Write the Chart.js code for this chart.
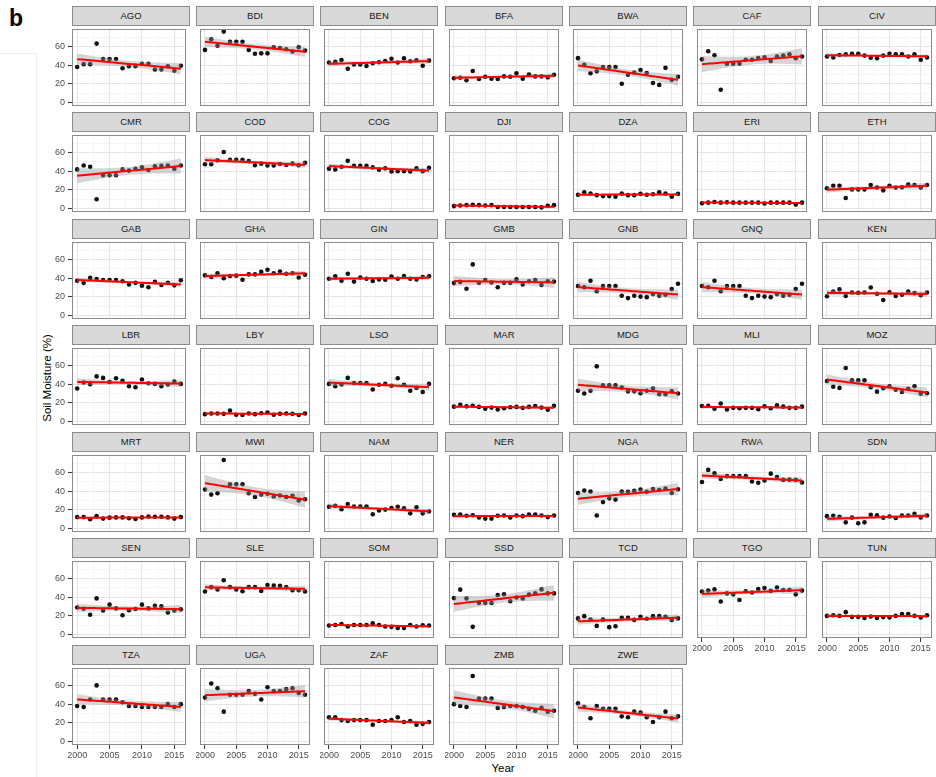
<!DOCTYPE html>
<html>
<head>
<meta charset="utf-8">
<script src="https://cdn.jsdelivr.net/npm/chart.js@4.4.1/dist/chart.umd.min.js"></script>
<style>
  html, body { margin: 0; padding: 0; background: #fff; }
  body { width: 936px; height: 777px; position: relative; overflow: hidden;
         font-family: "Liberation Sans", Arial, Helvetica, sans-serif; }
  canvas { position: absolute; }
  .strip { position: absolute; box-sizing: border-box; background: #d9d9d9;
           border: 1px solid #8c8c8c; font-size: 9.5px; color: #1a1a1a;
           text-align: center; line-height: 17px; }
  #tag { position: absolute; left: 9px; top: 5px; font-weight: bold; font-size: 23px; color: #000; }
  #frame { position: absolute; left: -1px; top: 53px; width: 37px; height: 730px;
           border-top: 1px solid #ededed; border-right: 1px solid #ededed; }
  #ytitle { position: absolute; left: 47px; top: 378px; transform: translate(-50%, -50%) rotate(-90deg);
            font-size: 11.5px; white-space: nowrap; color: #000; }
  #xtitle { position: absolute; left: 503px; top: 768px; transform: translate(-50%, -50%);
            font-size: 11.5px; color: #000; }
</style>
</head>
<body>
<div id="frame"></div>
<div id="tag">b</div>
<div id="ytitle">Soil Moisture (%)</div>
<div id="xtitle">Year</div>
<script>
// Annual soil moisture (%) by country, 2000–2016
const years = [2000, 2001, 2002, 2003, 2004, 2005, 2006, 2007, 2008, 2009, 2010, 2011, 2012, 2013, 2014, 2015, 2016];
const yearTicks = [2000, 2005, 2010, 2015];
const moistureTicks = [0, 20, 40, 60];

const countries = ['AGO', 'BDI', 'BEN', 'BFA', 'BWA', 'CAF', 'CIV',
                   'CMR', 'COD', 'COG', 'DJI', 'DZA', 'ERI', 'ETH',
                   'GAB', 'GHA', 'GIN', 'GMB', 'GNB', 'GNQ', 'KEN',
                   'LBR', 'LBY', 'LSO', 'MAR', 'MDG', 'MLI', 'MOZ',
                   'MRT', 'MWI', 'NAM', 'NER', 'NGA', 'RWA', 'SDN',
                   'SEN', 'SLE', 'SOM', 'SSD', 'TCD', 'TGO', 'TUN',
                   'TZA', 'UGA', 'ZAF', 'ZMB', 'ZWE'];

const AGO = [38.1, 41.1, 41.1, 63.0, 46.5, 46.5, 46.5, 36.7, 38.8, 38.8, 41.5, 41.5, 35.4, 35.4, 38.8, 34.0, 39.4];
const BDI = [56.3, 67.7, 60.7, 75.8, 65.0, 65.0, 65.0, 56.3, 52.2, 52.6, 52.6, 59.0, 58.3, 57.0, 54.6, 59.0, 55.6];
const BEN = [42.8, 43.5, 45.5, 36.1, 40.8, 40.8, 39.1, 42.1, 43.1, 44.5, 46.8, 42.8, 47.2, 44.2, 45.2, 39.4, 44.8];
const BFA = [26.0, 26.6, 23.9, 33.7, 25.3, 27.6, 25.6, 25.3, 28.0, 27.6, 31.3, 25.6, 30.0, 28.0, 28.0, 27.0, 29.7];
const BWA = [47.5, 40.4, 31.3, 33.4, 38.1, 38.1, 38.1, 20.2, 29.7, 32.0, 34.7, 31.7, 20.9, 18.9, 37.1, 24.3, 27.6];
const CAF = [46.2, 54.9, 50.6, 13.8, 41.5, 41.5, 41.5, 45.8, 45.8, 47.5, 48.5, 44.5, 49.2, 50.2, 51.6, 47.5, 49.2];
const CIV = [49.2, 48.2, 50.9, 51.6, 52.2, 52.2, 50.2, 47.9, 47.5, 50.2, 52.2, 51.6, 51.6, 49.2, 51.6, 45.8, 48.2];
const CMR = [41.9, 46.0, 44.6, 10.0, 35.6, 35.6, 35.6, 41.9, 40.6, 42.6, 44.0, 41.3, 45.3, 45.6, 46.0, 42.6, 46.0];
const COD = [47.3, 47.3, 51.7, 60.4, 52.0, 52.0, 52.0, 50.7, 46.3, 48.0, 46.0, 46.0, 47.7, 46.6, 48.0, 46.3, 49.0];
const COG = [42.6, 41.9, 44.6, 51.0, 45.6, 45.6, 45.6, 44.0, 41.6, 43.0, 39.6, 40.0, 40.0, 39.6, 43.0, 40.0, 43.6];
const DJI = [2.7, 3.4, 3.7, 4.0, 3.7, 3.4, 3.7, 1.7, 1.7, 1.7, 1.7, 1.7, 1.7, 1.7, 1.3, 3.0, 3.7];
const DZA = [14.8, 17.4, 16.1, 14.4, 13.4, 13.4, 12.8, 16.1, 14.4, 14.4, 15.8, 14.8, 15.4, 17.4, 16.1, 12.8, 15.8];
const ERI = [5.7, 6.4, 7.0, 6.4, 6.7, 6.4, 6.4, 6.4, 6.4, 6.4, 5.4, 6.4, 6.4, 6.4, 6.4, 4.4, 6.4];
const ETH = [21.8, 24.5, 24.5, 11.4, 20.5, 20.5, 20.5, 25.2, 22.5, 19.5, 24.5, 22.5, 22.8, 25.8, 25.2, 22.5, 25.2];
const GAB = [37.3, 35.0, 40.3, 39.0, 38.0, 38.0, 38.0, 36.7, 33.3, 35.0, 32.0, 30.3, 36.0, 32.7, 35.0, 32.3, 37.7];
const GHA = [43.0, 41.3, 45.3, 40.0, 42.3, 42.7, 38.3, 44.0, 44.0, 46.7, 49.0, 45.3, 47.0, 44.7, 45.3, 40.7, 43.7];
const GIN = [39.3, 42.0, 37.3, 44.7, 36.3, 40.7, 39.3, 37.0, 38.7, 38.3, 41.7, 39.3, 42.3, 39.3, 38.7, 41.3, 42.0];
const GMB = [34.7, 36.0, 28.7, 54.7, 35.0, 38.0, 35.3, 30.3, 35.0, 35.0, 38.7, 33.3, 36.7, 38.0, 32.7, 36.7, 36.3];
const GNB = [31.7, 30.3, 37.3, 26.0, 31.7, 31.7, 31.7, 21.3, 18.7, 21.3, 20.3, 19.7, 23.0, 21.3, 22.3, 28.3, 34.0];
const GNQ = [31.7, 30.3, 37.3, 26.0, 31.7, 31.7, 31.7, 21.3, 18.7, 21.3, 20.3, 19.7, 23.0, 21.3, 22.3, 28.3, 34.0];
const KEN = [20.7, 25.7, 28.0, 21.0, 24.7, 24.3, 24.7, 30.0, 23.3, 16.7, 25.0, 21.0, 22.3, 25.7, 24.0, 21.7, 24.7];
const LBR = [35.3, 41.7, 40.0, 48.3, 46.7, 42.3, 46.3, 43.7, 37.7, 36.7, 45.0, 41.0, 40.3, 37.7, 39.7, 42.7, 40.3];
const LBY = [8.0, 8.7, 8.7, 8.3, 11.7, 7.3, 7.0, 8.7, 8.0, 9.0, 9.7, 7.3, 8.3, 8.7, 8.3, 7.0, 8.7];
const LSO = [40.3, 37.7, 39.7, 46.7, 41.3, 41.3, 41.3, 34.3, 39.3, 40.3, 38.3, 46.3, 39.3, 33.0, 36.0, 31.7, 40.3];
const MAR = [16.0, 18.0, 16.3, 17.0, 15.7, 13.7, 15.0, 13.0, 14.3, 15.3, 15.7, 14.7, 15.7, 16.7, 15.0, 12.7, 17.0];
const MDG = [33.0, 30.0, 33.0, 59.0, 38.7, 38.7, 38.7, 36.3, 32.3, 32.3, 30.3, 33.0, 35.3, 29.3, 29.3, 32.3, 30.0];
const MLI = [16.7, 17.0, 13.7, 19.3, 13.0, 14.7, 14.3, 14.7, 14.7, 13.3, 16.3, 14.3, 17.3, 16.0, 14.7, 14.7, 16.0];
const MOZ = [43.3, 37.3, 36.0, 57.3, 44.0, 44.0, 44.0, 36.7, 32.0, 35.7, 37.7, 34.0, 31.7, 35.0, 37.7, 29.7, 30.3];
const MRT = [12.3, 12.3, 10.0, 13.3, 10.7, 11.7, 12.0, 12.0, 11.0, 10.3, 12.0, 13.0, 12.7, 12.7, 12.0, 10.7, 12.3];
const MWI = [41.7, 36.3, 37.7, 73.3, 47.3, 47.3, 47.3, 37.7, 33.7, 36.3, 37.3, 34.3, 35.3, 33.7, 35.0, 30.0, 31.3];
const NAM = [23.3, 24.3, 20.7, 26.3, 23.7, 23.7, 23.7, 15.3, 19.3, 20.3, 22.0, 23.3, 21.7, 16.3, 22.7, 16.3, 18.3];
const NER = [14.7, 15.0, 13.7, 14.3, 12.0, 10.7, 10.7, 13.7, 14.0, 12.0, 14.0, 13.3, 15.0, 15.0, 14.0, 12.3, 14.0];
const NGA = [38.0, 40.7, 39.7, 14.0, 28.3, 32.3, 31.0, 39.7, 39.3, 40.3, 41.7, 39.3, 42.3, 41.3, 42.7, 38.0, 42.0];
const RWA = [49.7, 62.7, 59.0, 53.0, 56.0, 56.0, 56.0, 56.0, 50.3, 49.0, 51.3, 58.7, 55.0, 52.0, 52.3, 52.0, 49.3];
const SDN = [13.3, 13.7, 12.7, 6.7, 11.7, 5.7, 6.7, 14.7, 14.3, 11.7, 13.0, 11.3, 14.0, 14.0, 15.7, 12.0, 14.0];
const SEN = [29.0, 27.7, 21.3, 38.7, 25.7, 32.0, 28.0, 20.7, 26.0, 27.3, 32.0, 28.0, 30.7, 30.3, 23.7, 25.7, 27.0];
const SLE = [46.0, 50.7, 48.3, 58.0, 50.7, 48.3, 46.3, 50.7, 50.7, 46.7, 53.0, 52.3, 52.0, 50.7, 47.3, 47.3, 46.0];
const SOM = [9.7, 10.3, 11.3, 8.7, 10.3, 10.3, 10.3, 12.0, 10.3, 8.7, 8.3, 7.0, 7.0, 10.3, 8.7, 10.0, 9.7];
const SSD = [39.0, 48.0, 38.7, 8.3, 33.7, 33.7, 33.7, 42.3, 43.0, 35.7, 39.7, 38.7, 42.7, 44.0, 48.3, 44.0, 44.0];
const TCD = [17.3, 19.7, 16.0, 9.3, 16.0, 8.0, 9.0, 18.0, 18.0, 15.7, 19.0, 17.0, 19.7, 19.7, 19.0, 15.7, 17.3];
const TGO = [46.0, 47.0, 48.3, 35.3, 44.0, 43.0, 37.0, 46.3, 45.0, 48.7, 49.7, 46.7, 50.3, 47.7, 47.7, 43.0, 47.0];
const TUN = [20.0, 20.7, 20.0, 24.0, 19.0, 19.0, 17.7, 19.3, 17.7, 18.7, 18.3, 20.0, 22.0, 22.0, 20.0, 18.3, 20.7];
const TZA = [38.0, 37.0, 45.0, 60.0, 45.0, 45.0, 45.0, 42.0, 38.0, 38.0, 37.0, 37.0, 37.0, 37.0, 40.0, 37.0, 40.0];
const UGA = [47.0, 62.0, 57.0, 32.0, 50.0, 50.0, 50.0, 54.0, 51.0, 45.0, 58.0, 54.0, 54.0, 56.0, 57.0, 52.0, 50.0];
const ZAF = [26.0, 26.0, 23.0, 22.0, 23.0, 23.0, 23.0, 18.0, 22.0, 22.0, 23.0, 26.0, 21.0, 22.0, 18.0, 19.0, 21.0];
const ZMB = [40.0, 38.0, 37.0, 70.0, 46.0, 46.0, 46.0, 36.0, 37.0, 38.0, 38.0, 37.0, 35.0, 33.0, 36.0, 32.0, 33.0];
const ZWE = [41.0, 37.0, 25.0, 38.0, 35.0, 35.0, 35.0, 27.0, 26.0, 32.0, 31.0, 26.0, 21.0, 26.0, 32.0, 25.0, 27.0];

const seriesList = [AGO, BDI, BEN, BFA, BWA, CAF, CIV, CMR, COD, COG, DJI, DZA, ERI, ETH,
                    GAB, GHA, GIN, GMB, GNB, GNQ, KEN, LBR, LBY, LSO, MAR, MDG, MLI, MOZ,
                    MRT, MWI, NAM, NER, NGA, RWA, SDN, SEN, SLE, SOM, SSD, TCD, TGO, TUN,
                    TZA, UGA, ZAF, ZMB, ZWE];

// Facet grid geometry (px)
const NCOL = 7;
const PLOT_LEFT0 = 71.7, COL_PITCH = 124.33, PLOT_W = 118;
const PLOT_TOP0 = 25, ROW_PITCH = 106.45, PLOT_H = 81, STRIP_H = 19;
const Y_AXIS_W = 32, X_AXIS_H = 16, SPARE_H = 4;

// Shared scale ranges (ggplot-style 5% expansion) and grid positions incl. minor lines
const X_MIN = 1999.2, X_MAX = 2016.8;
const Y_MIN = -3.6, Y_MAX = 78.6;
const xGrid = [2000, 2002.5, 2005, 2007.5, 2010, 2012.5, 2015];
const yGrid = [0, 10, 20, 30, 40, 50, 60, 70];

// Least-squares fit with a 95% confidence band (t quantile for n - 2 = 15 df)
const T_975 = 2.131;
function linearFitBand(xs, ys, steps) {
  const n = xs.length;
  const xbar = xs.reduce((a, b) => a + b, 0) / n;
  const ybar = ys.reduce((a, b) => a + b, 0) / n;
  let sxx = 0, sxy = 0;
  for (let i = 0; i < n; i++) {
    sxx += (xs[i] - xbar) ** 2;
    sxy += (xs[i] - xbar) * (ys[i] - ybar);
  }
  const slope = sxy / sxx, icpt = ybar - slope * xbar;
  let sse = 0;
  for (let i = 0; i < n; i++) sse += (ys[i] - (icpt + slope * xs[i])) ** 2;
  const s = Math.sqrt(sse / (n - 2));
  const line = [], lo = [], hi = [];
  for (let k = 0; k <= steps; k++) {
    const x = xs[0] + k * (xs[n - 1] - xs[0]) / steps;
    const yhat = icpt + slope * x;
    const se = s * Math.sqrt(1 / n + (x - xbar) ** 2 / sxx);
    line.push({ x, y: yhat });
    lo.push({ x, y: yhat - T_975 * se });
    hi.push({ x, y: yhat + T_975 * se });
  }
  return { line, lo, hi };
}

// Grey frame around each panel's plotting area
const panelFrame = {
  id: 'panelFrame',
  afterDraw(chart) {
    const { ctx, chartArea: a } = chart;
    ctx.save();
    ctx.strokeStyle = '#8c8c8c';
    ctx.lineWidth = 1;
    ctx.strokeRect(a.left + 0.5, a.top + 0.5, a.right - a.left - 1, a.bottom - a.top - 1);
    ctx.restore();
  }
};

Chart.defaults.font.family = '"Liberation Sans", Arial, Helvetica, sans-serif';

const isMajorYear = v => yearTicks.includes(v);
const isMajorMoisture = v => moistureTicks.includes(v);

countries.forEach((code, i) => {
  const row = Math.floor(i / NCOL), col = i % NCOL;
  const showX = i + NCOL >= countries.length;   // lowest panel in its column
  const showY = col === 0;
  const plotLeft = Math.round(PLOT_LEFT0 + col * COL_PITCH);
  const plotTop = Math.round(PLOT_TOP0 + row * ROW_PITCH);

  // strip label
  const strip = document.createElement('div');
  strip.className = 'strip';
  strip.style.left = plotLeft + 'px';
  strip.style.top = (plotTop - STRIP_H) + 'px';
  strip.style.width = PLOT_W + 'px';
  strip.style.height = (STRIP_H + 1) + 'px';
  strip.textContent = code;
  document.body.appendChild(strip);

  const leftExtra = showY ? Y_AXIS_W : 0;
  const bottomExtra = showX ? X_AXIS_H : SPARE_H;
  const canvas = document.createElement('canvas');
  canvas.width = PLOT_W + leftExtra;
  canvas.height = PLOT_H + bottomExtra;
  canvas.style.left = (plotLeft - leftExtra) + 'px';
  canvas.style.top = plotTop + 'px';
  canvas.style.width = canvas.width + 'px';
  canvas.style.height = canvas.height + 'px';
  document.body.appendChild(canvas);

  const vals = seriesList[i];
  const pts = years.map((yr, k) => ({ x: yr, y: vals[k] }));
  const fit = linearFitBand(years, vals, 40);

  new Chart(canvas, {
    type: 'line',
    data: {
      datasets: [
        { label: code, data: pts, showLine: false, pointRadius: 2.3,
          pointBackgroundColor: '#111', pointBorderWidth: 0, order: 3 },
        { data: fit.lo, pointRadius: 0, borderWidth: 0, borderColor: 'transparent',
          fill: false, order: 2 },
        { data: fit.hi, pointRadius: 0, borderWidth: 0, borderColor: 'transparent',
          backgroundColor: 'rgba(153,153,153,0.4)', fill: 1, order: 2 },
        { data: fit.line, pointRadius: 0, borderColor: '#ff0000', borderWidth: 2,
          fill: false, order: 1 }
      ]
    },
    options: {
      responsive: false,
      animation: false,
      events: [],
      layout: { padding: 0 },
      plugins: { legend: { display: false }, tooltip: { enabled: false } },
      scales: {
        x: {
          type: 'linear', min: X_MIN, max: X_MAX,
          afterBuildTicks: s => { s.ticks = xGrid.map(v => ({ value: v })); },
          afterFit: s => { s.height = bottomExtra; s.paddingLeft = 0; s.paddingRight = 0; },
          border: { display: false },
          ticks: {
            display: showX, autoSkip: false, maxRotation: 0, minRotation: 0, padding: 1,
            color: '#4d4d4d', font: { size: 9 },
            callback: v => isMajorYear(v) ? String(v) : ''
          },
          grid: {
            drawTicks: showX, tickLength: 4, tickWidth: 1,
            tickColor: c => (c.tick && isMajorYear(c.tick.value)) ? '#333333' : 'rgba(0,0,0,0)',
            color: c => (c.tick && isMajorYear(c.tick.value)) ? '#e6e6e6' : '#f0f0f0',
            lineWidth: c => (c.tick && isMajorYear(c.tick.value)) ? 1.1 : 0.6
          }
        },
        y: {
          type: 'linear', min: Y_MIN, max: Y_MAX,
          afterBuildTicks: s => { s.ticks = yGrid.map(v => ({ value: v })); },
          afterFit: s => { s.width = leftExtra; s.paddingTop = 0; s.paddingBottom = 0; },
          border: { display: false },
          ticks: {
            display: showY, autoSkip: false, padding: 3,
            color: '#4d4d4d', font: { size: 9 },
            callback: v => isMajorMoisture(v) ? String(v) : ''
          },
          grid: {
            drawTicks: showY, tickLength: 4, tickWidth: 1,
            tickColor: c => (c.tick && isMajorMoisture(c.tick.value)) ? '#333333' : 'rgba(0,0,0,0)',
            color: c => (c.tick && isMajorMoisture(c.tick.value)) ? '#e6e6e6' : '#f0f0f0',
            lineWidth: c => (c.tick && isMajorMoisture(c.tick.value)) ? 1.1 : 0.6
          }
        }
      }
    },
    plugins: [panelFrame]
  });
});
</script>
</body>
</html>
